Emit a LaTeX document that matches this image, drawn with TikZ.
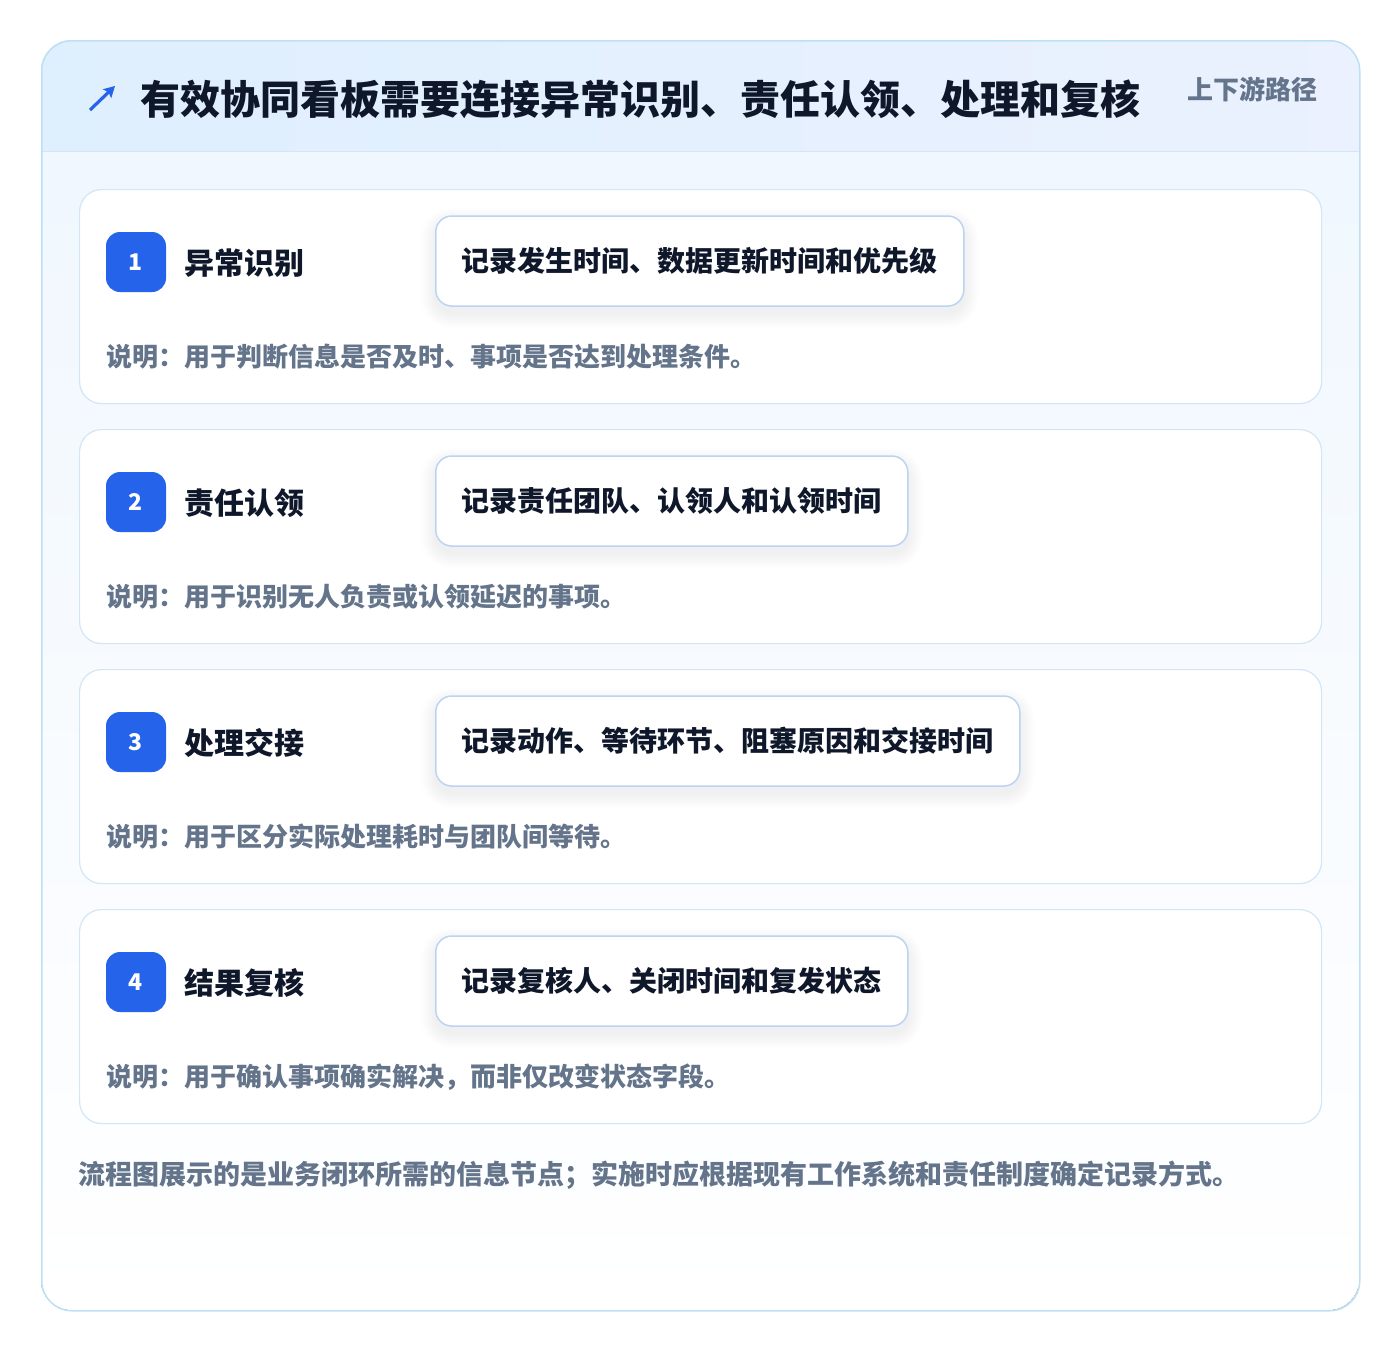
\documentclass[tikz,border=0pt]{standalone}
\usepackage{fontspec}
\setmainfont{Noto Sans CJK SC}
\usetikzlibrary{calc,arrows.meta}
\pgfdeclarelayer{back}
\pgfdeclarelayer{shade}
\pgfsetlayers{back,shade,main}
\definecolor{cardborder}{HTML}{BEE0F4}
\definecolor{stepborder}{HTML}{D3E6F7}
\definecolor{pillborder}{HTML}{BBD4F2}
\definecolor{badgeblue}{HTML}{2563EB}
\definecolor{ink}{HTML}{0F172A}
\definecolor{muted}{HTML}{64748B}
\definecolor{hdrL}{HTML}{DEEFFE}
\definecolor{hdrR}{HTML}{EBF1FE}
\definecolor{bodytop}{HTML}{F0F7FE}
\definecolor{hdrline}{HTML}{D2E6F7}
\tikzset{
  stepcard/.style={draw=stepborder, line width=1.2pt, rounded corners=22, fill=white,
    minimum width=1242, minimum height=214, anchor=north west, inner sep=0},
  badgebox/.style={fill=badgeblue, rounded corners=14, minimum width=60, minimum height=60,
    inner sep=0, text=white, font=\bfseries\fontsize{23}{25}\selectfont},
  steptitle/.style={anchor=west, inner sep=0, text=ink, font=\bfseries\fontsize{30}{32}\selectfont},
  pillbox/.style={draw=pillborder, line width=1.5pt, rounded corners=16, fill=white,
    anchor=west, inner xsep=26, minimum height=90, text=ink,
    font=\bfseries\fontsize{28}{30}\selectfont},
  desctext/.style={anchor=west, inner sep=0, text=muted, font=\bfseries\fontsize{26}{28}\selectfont},
}
\begin{document}
\begin{tikzpicture}[x=1pt,y=-1pt]
\useasboundingbox (0,0) rectangle (1400,1352);
\begin{pgfonlayer}{back}
\fill[white] (0,0) rectangle (1400,1352);
% outer shadow
\foreach \i in {0,...,40} {
  \fill[black, opacity=0.0018, rounded corners=30+\i] (41-\i,60-\i) rectangle (1359+\i,1328+\i);
}
\begin{scope}
  \clip[rounded corners=30] (41,40) rectangle (1359,1310);
  \fill[top color=bodytop, bottom color=white] (41,151) rectangle (1359,1310);
  \node[anchor=north west, inner sep=0, minimum width=1318, minimum height=111,
        left color=hdrL, right color=hdrR] (header) at (41,40) {};
  \draw[hdrline, line width=1.5pt] (header.south west) -- (header.south east);
\end{scope}
\node[draw=cardborder, line width=1.5pt, rounded corners=30, anchor=north west,
      minimum width=1318, minimum height=1270, inner sep=0] (card) at (41,40) {};
\end{pgfonlayer}
% header content
\coordinate (arrowtail) at (90,110);
\coordinate (arrowhead) at (115,86);
\draw[badgeblue, line width=3.2pt, -{Stealth[length=11pt,width=12pt,inset=2pt]}] (arrowtail) -- (arrowhead);
\node[anchor=west, inner sep=0, text=ink, font=\bfseries\fontsize{40}{42}\selectfont] (title) at (140,99)
  {有效协同看板需要连接异常识别、责任认领、处理和复核};
\node[anchor=east, inner sep=0, text=muted, font=\bfseries\fontsize{26}{28}\selectfont] (sub) at (1318,89)
  {上下游路径};
% steps
\foreach \n/\t/\p/\d [count=\k from 0] in {
  1/异常识别/记录发生时间、数据更新时间和优先级/说明：用于判断信息是否及时、事项是否达到处理条件。,
  2/责任认领/记录责任团队、认领人和认领时间/说明：用于识别无人负责或认领延迟的事项。,
  3/处理交接/记录动作、等待环节、阻塞原因和交接时间/说明：用于区分实际处理耗时与团队间等待。,
  4/结果复核/记录复核人、关闭时间和复发状态/说明：用于确认事项确实解决，而非仅改变状态字段。} {
  \pgfmathsetmacro\yy{189+240*\k}
  \begin{pgfonlayer}{back}
    \node[stepcard] (step\n) at (79,\yy) {};
  \end{pgfonlayer}
  \node[badgebox] (badge\n) at (136,\yy+73) {\n};
  \node[steptitle] (stitle\n) at (184,\yy+74) {\t};
  \node[pillbox] (pill\n) at (435,\yy+72) {\p};
  \begin{pgfonlayer}{shade}
    \foreach \j in {0,...,14} {
      \fill[black, opacity=0.003, rounded corners=16+\j]
        ($(pill\n.north west)+(-\j,7-\j)$) rectangle ($(pill\n.south east)+(\j,7+\j)$);
    }
  \end{pgfonlayer}
  \node[desctext] (desc\n) at (106,\yy+168) {\d};
}
\node[anchor=west, inner sep=0, text=muted, font=\bfseries\fontsize{27}{29}\selectfont] (footer) at (78,1175)
  {流程图展示的是业务闭环所需的信息节点；实施时应根据现有工作系统和责任制度确定记录方式。};
\end{tikzpicture}
\end{document}
